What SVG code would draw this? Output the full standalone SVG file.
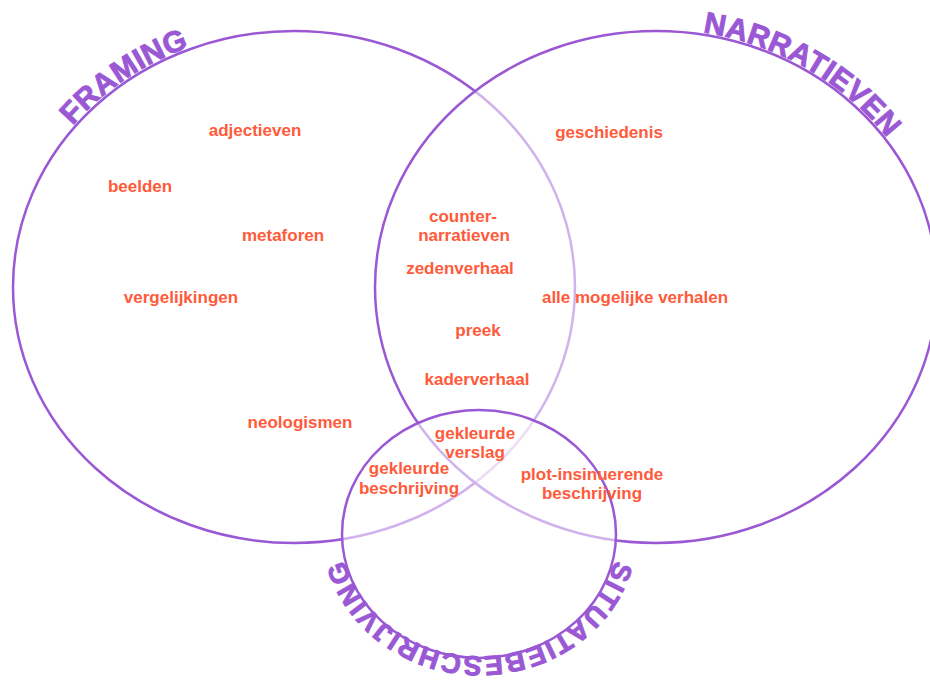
<svg xmlns="http://www.w3.org/2000/svg" width="930" height="682" viewBox="0 0 930 682">
<style>
.ring{fill:#ffffff;fill-opacity:0.55;stroke:#9a58d4;stroke-width:2.5}
.base{fill:none;stroke:#9a58d4;stroke-width:2.5}
.lbl{font-family:"Liberation Sans",Arial,sans-serif;font-weight:bold;font-size:17px;fill:#ff5a3a;text-anchor:middle}
.ttl{font-family:"Liberation Sans",Arial,sans-serif;font-weight:bold;font-size:30px;letter-spacing:0.3px;fill:#9a58d4;stroke:#9a58d4;stroke-width:0.9}
.ttl2{font-family:"Liberation Sans",Arial,sans-serif;font-weight:bold;font-size:27.5px;letter-spacing:1.4px;fill:#9a58d4;stroke:#9a58d4;stroke-width:0.9}
</style>
<defs>
<path id="pFraming" d="M 72.6,125.7 A 283 258 0 0 1 435.5,63.6"/>
<path id="pNarr" d="M 702.7,32.5 A 283 258 0 0 1 934.7,242.2"/>
<path id="pSitu" d="M 614.9,560.2 A 139 126 0 0 1 343.1,507.8"/>
</defs>
<g id="connectors"></g>
<g id="framing">
<ellipse class="base" cx="294" cy="287" rx="281" ry="256"/>
<text class="ttl"><textPath href="#pFraming">FRAMING</textPath></text>
</g>
<g id="narratieven">
<ellipse class="ring" cx="656" cy="287" rx="281" ry="256"/>
<text class="ttl"><textPath href="#pNarr">NARRATIEVEN</textPath></text>
</g>
<g id="situatiebeschrijving">
<ellipse class="ring" cx="479" cy="534" rx="137" ry="124"/>
<text class="ttl2"><textPath href="#pSitu">SITUATIEBESCHRIJVING</textPath></text>
</g>
<g id="labels">
<text class="lbl" x="255" y="136">adjectieven</text>
<text class="lbl" x="140" y="192">beelden</text>
<text class="lbl" x="283" y="241">metaforen</text>
<text class="lbl" x="181" y="303">vergelijkingen</text>
<text class="lbl" x="300" y="428">neologismen</text>
<text class="lbl" x="463" y="222">counter-</text>
<text class="lbl" x="464" y="241">narratieven</text>
<text class="lbl" x="460" y="274">zedenverhaal</text>
<text class="lbl" x="478" y="336">preek</text>
<text class="lbl" x="477" y="385">kaderverhaal</text>
<text class="lbl" x="475" y="439">gekleurde</text>
<text class="lbl" x="475" y="458">verslag</text>
<text class="lbl" x="409" y="474">gekleurde</text>
<text class="lbl" x="409" y="494">beschrijving</text>
<text class="lbl" x="592" y="480">plot-insinuerende</text>
<text class="lbl" x="592" y="499">beschrijving</text>
<text class="lbl" x="609" y="138">geschiedenis</text>
<text class="lbl" x="635" y="303">alle mogelijke verhalen</text>
</g>
</svg>
